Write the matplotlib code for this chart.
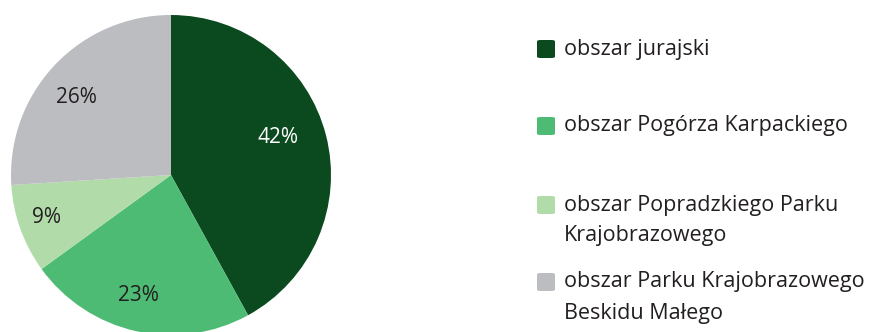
import matplotlib
matplotlib.use("Agg")
import matplotlib.pyplot as plt
from matplotlib.patches import FancyBboxPatch
import numpy as np

categories = ["obszar jurajski",
              "obszar Pogórza Karpackiego",
              "obszar Popradzkiego Parku\nKrajobrazowego",
              "obszar Parku Krajobrazowego\nBeskidu Małego"]
values = [42, 23, 9, 26]
pct_labels = ["42%", "23%", "9%", "26%"]

colors = ["#0B4A1F", "#4DBB73", "#B2DBAA", "#BCBDC1"]
label_colors = ["white", "#231F20", "#231F20", "#231F20"]
# (angle deg, distance as fraction of radius) for percentage labels
label_polar = [(19.4, 0.71), (-105, 0.78), (-161, 0.82), (140.7, 0.76)]

plt.rcParams['font.family'] = ['Open Sans', 'DejaVu Sans']

W, H = 870, 332
fig = plt.figure(figsize=(W/100, H/100), dpi=100)
cx, cy, r = 171, 175, 160
ax = fig.add_axes([(cx - r)/W, (H - cy - r)/H, 2*r/W, 2*r/H])
wedges, _ = ax.pie(values, colors=colors, startangle=90, counterclock=False,
                   radius=1, wedgeprops=dict(linewidth=0))
ax.set_xlim(-1, 1)
ax.set_ylim(-1, 1)
ax.set_axis_off()

for lab, col, (ang, d) in zip(pct_labels, label_colors, label_polar):
    a = np.deg2rad(ang)
    ax.text(d*np.cos(a), d*np.sin(a), lab, ha="center", va="center",
            fontsize=15, color=col)

# legend drawn manually
leg_y = [49, 126, 205, 282]
mx, ms = 537, 18
for lab, col, y in zip(categories, colors, leg_y):
    fig.patches.append(FancyBboxPatch((mx/W, (H - y - ms/2)/H), ms/W, ms/H,
                                      boxstyle="round,pad=0,rounding_size=0.004",
                                      transform=fig.transFigure, facecolor=col,
                                      edgecolor="none"))
    for i, ln in enumerate(lab.split("\n")):
        fig.text(564/W, (H - y - i*31)/H, ln, ha="left", va="center",
                 fontsize=15.5, color="#231F20")

fig.savefig("out.png", dpi=100, facecolor="white")
